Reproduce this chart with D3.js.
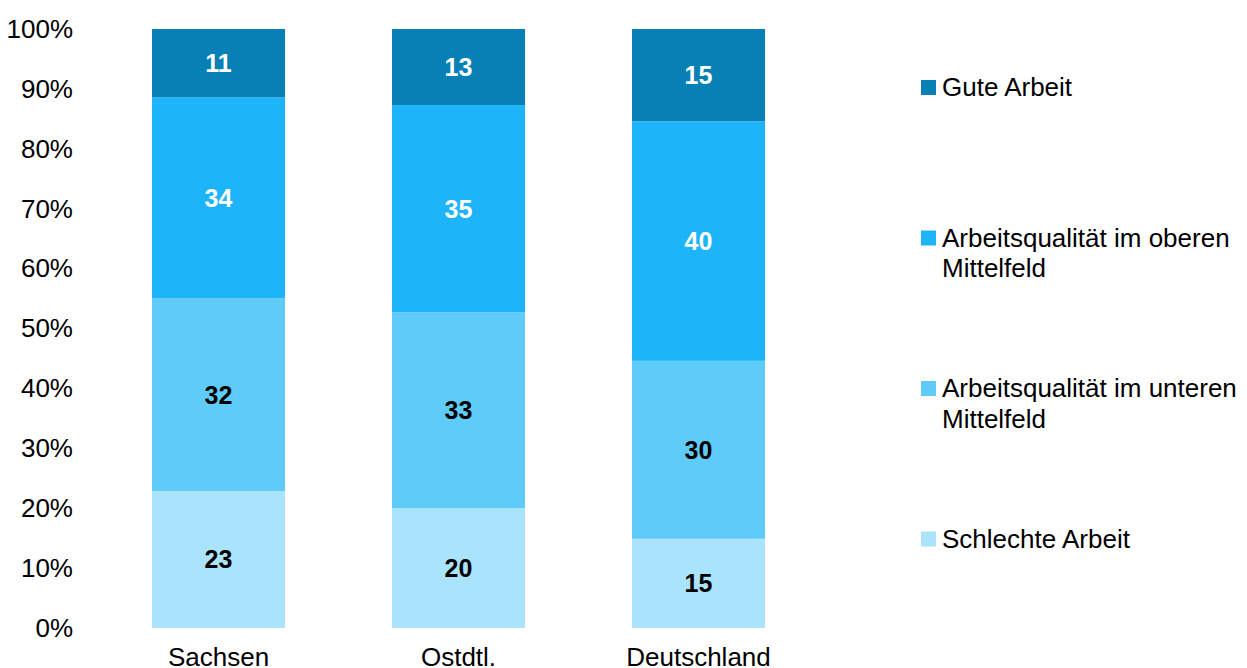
<!DOCTYPE html>
<html>
<head>
<meta charset="utf-8">
<script src="https://cdn.jsdelivr.net/npm/d3@7"></script>
<style>
  html, body { margin: 0; padding: 0; background: #fff; }
  svg { display: block; font-family: "Liberation Sans", Arial, sans-serif; }
</style>
</head>
<body>
<svg id="chart" width="1247" height="668"></svg>
<script>
const categories = ["Sachsen", "Ostdtl.", "Deutschland"];
const seriesNames = ["Schlechte Arbeit", "Arbeitsqualität im unteren Mittelfeld", "Arbeitsqualität im oberen Mittelfeld", "Gute Arbeit"];
// shares in percent (labels show them rounded)
const schlechte = [22.9, 20.0, 14.9];
const unteren = [32.2, 32.7, 29.7];
const oberen = [33.6, 34.6, 40.0];
const gute = [11.4, 12.7, 15.4];
const yTicks = [0, 10, 20, 30, 40, 50, 60, 70, 80, 90, 100];
const colors = ["#aae3fc", "#5ecbf9", "#1db4fa", "#0680b5"];
const labelColors = ["#000", "#000", "#fff", "#fff"];
const legendLines = [["Gute Arbeit"], ["Arbeitsqualität im oberen", "Mittelfeld"], ["Arbeitsqualität im unteren", "Mittelfeld"], ["Schlechte Arbeit"]];

const FS = 26;
const svg = d3.select("#chart");
const values = [schlechte, unteren, oberen, gute];

const rows = categories.map((c, i) => {
  const r = { cat: c };
  const total = d3.sum(values, v => v[i]);
  seriesNames.forEach((s, k) => { r[s] = values[k][i] / total; r["raw" + k] = values[k][i]; });
  return r;
});

const stacked = d3.stack().keys(seriesNames)(rows);

const x = d3.scaleBand().domain(categories).range([98.5, 818.5]).paddingInner(0.4458).paddingOuter(0.2229);
const y = d3.scaleLinear().domain([0, 1]).range([628, 29]);

// y axis
const yAxis = d3.axisLeft(y).tickValues(yTicks.map(t => t / 100)).tickFormat(d => Math.round(d * 100) + "%").tickSize(0).tickPadding(0);
const yg = svg.append("g").attr("transform", "translate(73,0)").call(yAxis);
yg.select(".domain").remove();
yg.selectAll("text").attr("font-size", FS).attr("fill", "#000").attr("font-family", "Liberation Sans, Arial, sans-serif");

// x axis
const xAxis = d3.axisBottom(x).tickSize(0).tickPadding(0);
const xg = svg.append("g").attr("transform", "translate(0,628)").call(xAxis);
xg.select(".domain").remove();
xg.selectAll("text").attr("font-size", FS).attr("fill", "#000").attr("dy", null).attr("y", 37.5).attr("font-family", "Liberation Sans, Arial, sans-serif");

// bars
const layers = svg.append("g").selectAll("g").data(stacked).join("g").attr("fill", (d, i) => colors[i]);
layers.selectAll("rect").data(d => d).join("rect")
  .attr("x", d => x(d.data.cat))
  .attr("width", x.bandwidth())
  .attr("y", d => y(d[1]))
  .attr("height", d => y(d[0]) - y(d[1]));

// labels
stacked.forEach((layer, k) => {
  svg.append("g").selectAll("text").data(layer).join("text")
    .attr("x", d => x(d.data.cat) + x.bandwidth() / 2)
    .attr("y", d => (y(d[0]) + y(d[1])) / 2)
    .attr("dy", "0.36em")
    .attr("text-anchor", "middle")
    .attr("font-size", 25)
    .attr("font-weight", "bold")
    .attr("fill", labelColors[k])
    .text(d => Math.round(d.data["raw" + k]));
});

// legend
const legendColors = [colors[3], colors[2], colors[1], colors[0]];
const lg = svg.append("g");
legendLines.forEach((lines, i) => {
  const top = 80 + i * 150.5;
  lg.append("rect").attr("x", 921).attr("y", top).attr("width", 15).attr("height", 15).attr("fill", legendColors[i]);
  const t = lg.append("text").attr("x", 942).attr("y", top + 16).attr("font-size", FS).attr("fill", "#000");
  lines.forEach((ln, j) => {
    t.append("tspan").attr("x", 942).attr("dy", j === 0 ? 0 : 30.5).text(ln);
  });
});
</script>
</body>
</html>
